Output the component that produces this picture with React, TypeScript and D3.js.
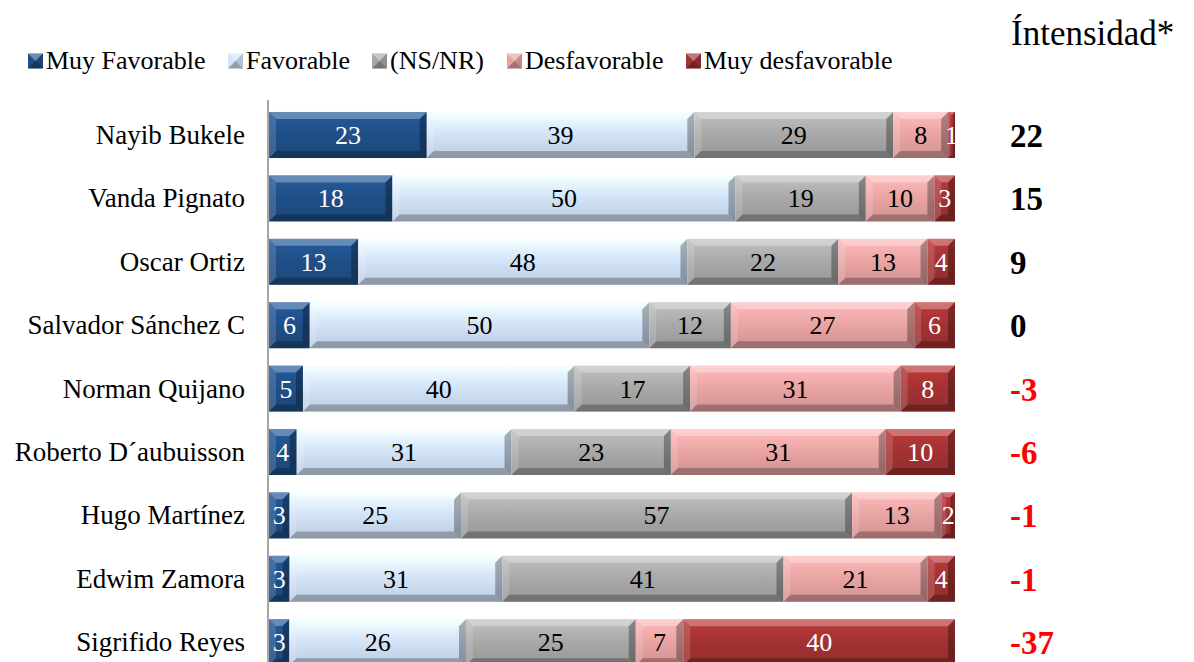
import React from "react";
import * as d3 from "d3";

const names = ["Nayib Bukele","Vanda Pignato","Oscar Ortiz","Salvador Sánchez C","Norman Quijano","Roberto D´aubuisson","Hugo Martínez","Edwim Zamora","Sigrifido Reyes"];
const seriesNames = ["Muy Favorable","Favorable","(NS/NR)","Desfavorable","Muy desfavorable"];
const muyFav = [23,18,13,6,5,4,3,3,3];
const fav = [39,50,48,50,40,31,25,31,26];
const nsnr = [29,19,22,12,17,23,57,41,25];
const desf = [8,10,13,27,31,31,13,21,7];
const muyDesf = [1,3,4,6,8,10,2,4,40];
const intensidad = [22,15,9,0,-3,-6,-1,-1,-37];
const colors = ["#1F4F87","#D2E3F8","#A8A8A8","#E9A3A3","#A33232"];
const textColors = ["#fff","#000","#000","#000","#fff"];

const W = 1194, H = 662;
const x0 = 269, x1 = 955;
const FONT = "Liberation Serif, Times New Roman, serif";

export default function App() {
  const series = [muyFav, fav, nsnr, desf, muyDesf];
  const y = d3.scaleBand().domain(names).range([103.3, 673.9]).paddingInner(0.274).paddingOuter(0.137);
  const bh = y.bandwidth();
  const rows = names.map((n, i) => {
    const vals = series.map(s => s[i]);
    const total = d3.sum(vals);
    const x = d3.scaleLinear().domain([0, total]).range([x0, x1]);
    let acc = 0;
    const segs = vals.map((v, k) => {
      const s = { k, v, xa: x(acc), xb: x(acc + v) };
      acc += v;
      return s;
    });
    return { n, i, segs };
  });
  const legendX = [28, 228, 372, 507, 686];
  return (
    <svg width={W} height={H} style={{ position: "absolute", left: 0, top: 0, background: "#fff" }}>
      <defs>
        {colors.map((c, k) => (
          <linearGradient key={k} id={"g" + k} x1="0" y1="0" x2="0" y2="1">
            <stop offset="0" stopColor={d3.color(c)!.brighter(0.4).toString()} />
            <stop offset="0.5" stopColor={c} />
            <stop offset="1" stopColor={d3.color(c)!.darker(0.3).toString()} />
          </linearGradient>
        ))}
      </defs>
      <text x={1011} y={45} fontFamily={FONT} fontSize={35}>Íntensidad*</text>
      {seriesNames.map((s, k) => (
        <g key={s} transform={`translate(${legendX[k]},61)`}>
          <rect x={0} y={-7.5} width={15} height={15} fill={colors[k]} />
          <polygon points="0,-7.5 15,-7.5 7.5,0" fill="#fff" opacity={0.35} />
          <polygon points="0,7.5 15,7.5 7.5,0" fill="#000" opacity={0.3} />
          <polygon points="15,-7.5 15,7.5 7.5,0" fill="#000" opacity={0.15} />
          <text x={18} y={8} fontFamily={FONT} fontSize={26}>{s}</text>
        </g>
      ))}
      <line x1={268} x2={268} y1={100} y2={662} stroke="#888" strokeWidth={1.5} />
      {rows.map(r => {
        const yy = y(r.n)!;
        const cy = yy + bh / 2;
        return (
          <g key={r.n}>
            <text x={245} y={cy + 9} textAnchor="end" fontFamily={FONT} fontSize={27}>{r.n}</text>
            {r.segs.map(s => {
              const w = s.xb - s.xa;
              const b = Math.min(7, w / 3, bh / 4);
              const a = s.xa, c = s.xb, t = yy, bt = yy + bh;
              return (
                <g key={s.k}>
                  <rect x={a} y={t} width={w} height={bh} fill={`url(#g${s.k})`} />
                  <polygon points={`${a},${t} ${c},${t} ${c - b},${t + b} ${a + b},${t + b}`} fill="#fff" opacity={0.3} />
                  <polygon points={`${a},${t} ${a + b},${t + b} ${a + b},${bt - b} ${a},${bt}`} fill="#fff" opacity={0.15} />
                  <polygon points={`${c},${t} ${c},${bt} ${c - b},${bt - b} ${c - b},${t + b}`} fill="#000" opacity={0.3} />
                  <polygon points={`${a},${bt} ${c},${bt} ${c - b},${bt - b} ${a + b},${bt - b}`} fill="#000" opacity={0.25} />
                  <text x={(a + c) / 2} y={cy + 9} textAnchor="middle" fontFamily={FONT} fontSize={26} fill={textColors[s.k]}>{s.v}</text>
                </g>
              );
            })}
            <text x={1010} y={cy + 12} fontFamily={FONT} fontSize={33} fontWeight="bold" fill={intensidad[r.i] < 0 ? "#FF0000" : "#000"}>{intensidad[r.i]}</text>
          </g>
        );
      })}
    </svg>
  );
}
